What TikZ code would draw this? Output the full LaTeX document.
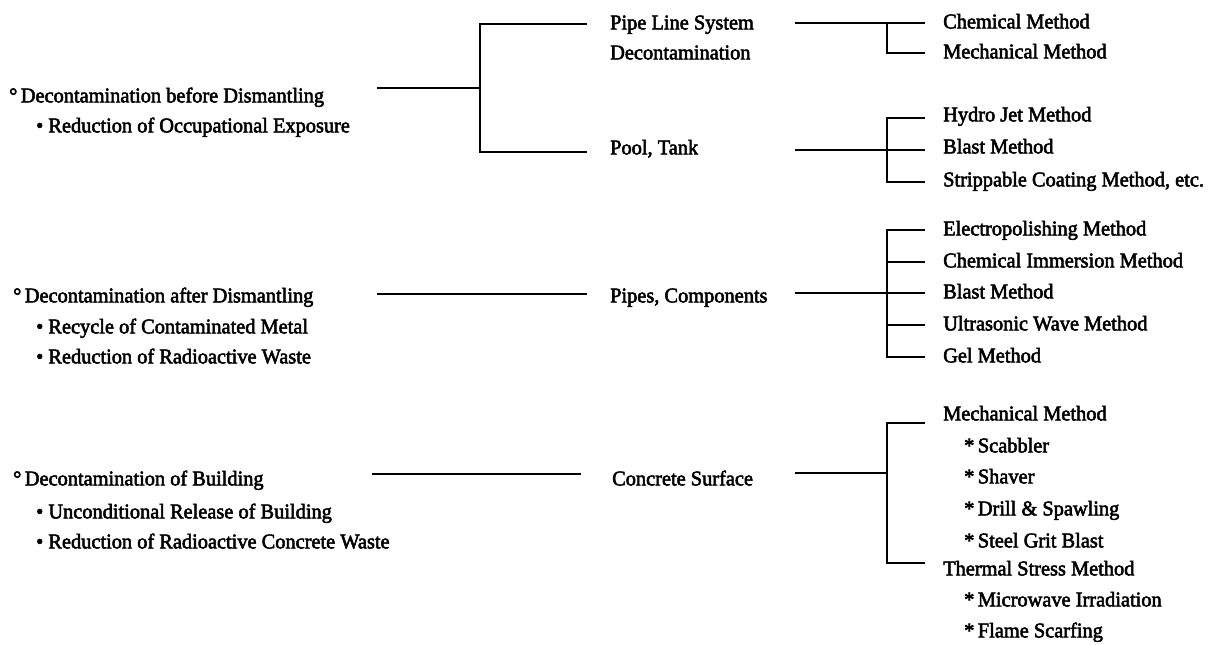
\documentclass[tikz,border=0pt]{standalone}
\usepackage{fontspec}
\setmainfont[FakeStretch=0.97,FakeBold=2.5]{Liberation Serif}
\begin{document}
\begin{tikzpicture}[x=1bp,y=-1bp,
  lbl/.style={anchor=west,inner sep=0pt,yshift=-3bp,font=\fontsize{21bp}{25bp}\selectfont,text height=0.68em,text depth=0.2em},
  conn/.style={line width=1.8bp,black}]
\useasboundingbox (0,0) rectangle (1215,645);
% left column
\node[lbl] (g1a) at (9,97)  {°\,Decontamination before Dismantling};
\node[lbl] (g1b) at (36,127) {• Reduction of Occupational Exposure};
\node[lbl] (g2a) at (13,297) {°\,Decontamination after Dismantling};
\node[lbl] (g2b) at (36,328) {• Recycle of Contaminated Metal};
\node[lbl] (g2c) at (36,358) {• Reduction of Radioactive Waste};
\node[lbl] (g3a) at (13,480) {°\,Decontamination of Building};
\node[lbl] (g3b) at (36,513) {• Unconditional Release of Building};
\node[lbl] (g3c) at (36,543) {• Reduction of Radioactive Concrete Waste};
% middle column
\node[lbl] (pls)  at (610,24)  {Pipe Line System};
\node[lbl] (plsd) at (610,54)  {Decontamination};
\node[lbl] (pool) at (610,149) {Pool, Tank};
\node[lbl] (pipes) at (610,297) {Pipes, Components};
\node[lbl] (conc) at (612,480) {Concrete Surface};
% right column
\node[lbl] (cm1) at (943,23)  {Chemical Method};
\node[lbl] (mm1) at (943,53)  {Mechanical Method};
\node[lbl] (hj)  at (943,116) {Hydro Jet Method};
\node[lbl] (bm1) at (943,148) {Blast Method};
\node[lbl] (sc)  at (943,181) {Strippable Coating Method, etc.};
\node[lbl] (ep)  at (943,230) {Electropolishing Method};
\node[lbl] (ci)  at (943,262) {Chemical Immersion Method};
\node[lbl] (bm2) at (943,293) {Blast Method};
\node[lbl] (uw)  at (943,325) {Ultrasonic Wave Method};
\node[lbl] (gel) at (943,357) {Gel Method};
\node[lbl] (mm2) at (943,415) {Mechanical Method};
\node[lbl] (s1)  at (964,447) {*\,Scabbler};
\node[lbl] (s2)  at (964,478) {*\,Shaver};
\node[lbl] (s3)  at (964,510) {*\,Drill \& Spawling};
\node[lbl] (s4)  at (964,542) {*\,Steel Grit Blast};
\node[lbl] (ts)  at (943,570) {Thermal Stress Method};
\node[lbl] (s5)  at (964,601) {*\,Microwave Irradiation};
\node[lbl] (s6)  at (964,632) {*\,Flame Scarfing};
% connector coordinates
\coordinate (a1) at (377,88);  \coordinate (j1) at (480,88);
\coordinate (j1t) at (480,24); \coordinate (j1b) at (480,152);
\coordinate (e1t) at (587,24); \coordinate (e1b) at (587,152);
\coordinate (a2) at (795,23);  \coordinate (j2) at (887,23); \coordinate (j2b) at (887,53);
\coordinate (e2t) at (925,23); \coordinate (e2b) at (925,53);
\coordinate (a3) at (795,150); \coordinate (j3) at (887,150);
\coordinate (j3t) at (887,118); \coordinate (j3b) at (887,182);
\coordinate (a4) at (377,294); \coordinate (e4) at (587,294);
\coordinate (a5) at (795,293); \coordinate (j5) at (887,293);
\coordinate (j5t) at (887,230); \coordinate (j5b) at (887,357);
\coordinate (j5c) at (887,262); \coordinate (j5d) at (887,325);
\coordinate (a6) at (372,474); \coordinate (e6) at (581,474);
\coordinate (a7) at (795,473); \coordinate (j7) at (887,473);
\coordinate (j7t) at (887,423); \coordinate (j7b) at (887,563);
% connectors
\draw[conn] (a1) -- (j1);
\draw[conn] (e1t) -- (j1t) -- (j1b) -- (e1b);
\draw[conn] (a2) -- (e2t);
\draw[conn] (j2) -- (j2b) -- (e2b);
\draw[conn] (a3) -- (j3 -| e2t);
\draw[conn] (j3t -| e2t) -- (j3t) -- (j3b) -- (j3b -| e2t);
\draw[conn] (a4) -- (e4);
\draw[conn] (a5) -- (j5 -| e2t);
\draw[conn] (j5t -| e2t) -- (j5t) -- (j5b) -- (j5b -| e2t);
\draw[conn] (j5c) -- (j5c -| e2t);
\draw[conn] (j5d) -- (j5d -| e2t);
\draw[conn] (a6) -- (e6);
\draw[conn] (a7) -- (j7);
\draw[conn] (j7t -| e2t) -- (j7t) -- (j7b) -- (j7b -| e2t);
\end{tikzpicture}
\end{document}
